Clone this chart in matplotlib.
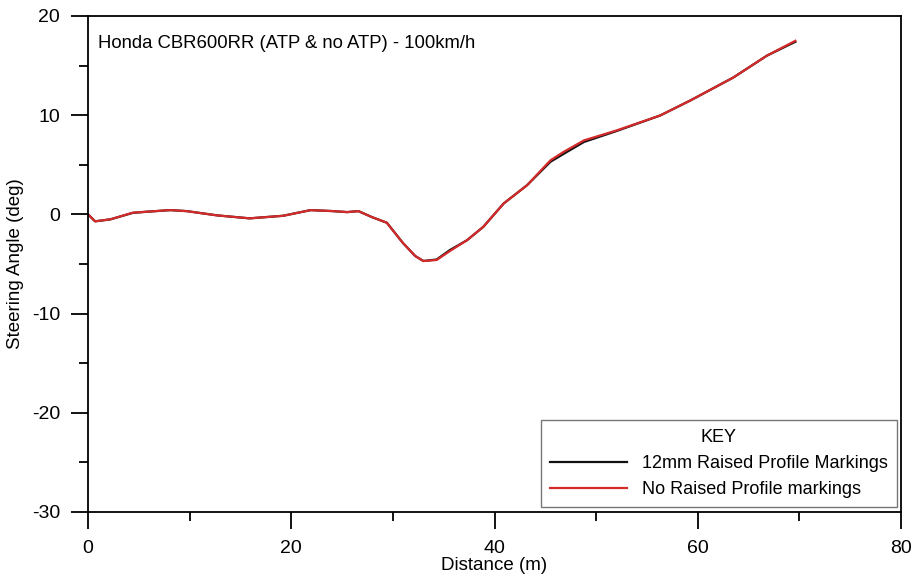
import matplotlib
matplotlib.use("Agg")
import matplotlib.pyplot as plt
from matplotlib.ticker import MultipleLocator

plt.rcParams['font.family'] = ['Liberation Sans', 'DejaVu Sans']
plt.rcParams['font.size'] = 14
plt.rcParams['axes.unicode_minus'] = False

# distance (m) and steering angle (deg)
dist_atp = [0, 0.7, 2.2, 4.4, 5.8, 8.1, 9.7, 12.7, 15.9, 19.2, 21.9, 24.1, 25.5, 26.6,
            28.0, 29.4, 31.0, 32.2, 33.0, 34.3, 35.6, 37.3, 38.9, 40.9, 43.2, 45.5, 46.8,
            48.8, 52.0, 56.3, 59.3, 63.5, 66.8, 69.6]
angle_atp = [0, -0.7, -0.5, 0.15, 0.27, 0.43, 0.33, -0.1, -0.4, -0.14, 0.43, 0.33, 0.23, 0.33,
             -0.3, -0.84, -2.9, -4.2, -4.7, -4.55, -3.6, -2.6, -1.25, 1.1, 2.94, 5.3, 6.1,
             7.3, 8.4, 9.97, 11.5, 13.8, 16.0, 17.4]

dist_no_atp = [0, 0.7, 2.2, 4.4, 5.8, 8.1, 9.7, 12.7, 15.9, 19.2, 21.9, 24.1, 25.5, 26.6,
               28.0, 29.4, 31.0, 32.2, 33.0, 34.3, 35.6, 37.3, 38.9, 40.9, 43.2, 45.5, 46.8,
               48.8, 52.0, 56.3, 59.3, 63.5, 66.8, 69.6]
angle_no_atp = [0, -0.7, -0.5, 0.17, 0.27, 0.43, 0.33, -0.1, -0.4, -0.14, 0.43, 0.33, 0.23, 0.33,
                -0.3, -0.84, -2.9, -4.2, -4.7, -4.6, -3.7, -2.6, -1.25, 1.1, 2.94, 5.45, 6.3,
                7.46, 8.46, 9.97, 11.5, 13.8, 16.0, 17.5]

fig = plt.figure(figsize=(9.13, 5.88), dpi=100)
ax = fig.add_axes([0.0964, 0.1293, 0.8905, 0.8435])

ax.plot(dist_atp, angle_atp, color='#111111', lw=1.6, label='12mm Raised Profile Markings')
ax.plot(dist_no_atp, angle_no_atp, color='#d42a2a', lw=1.6, label='No Raised Profile markings')

ax.set_xlim(0, 80)
ax.set_ylim(-30, 20)
ax.xaxis.set_major_locator(MultipleLocator(20))
ax.xaxis.set_minor_locator(MultipleLocator(10))
ax.yaxis.set_major_locator(MultipleLocator(10))
ax.yaxis.set_minor_locator(MultipleLocator(5))
ax.tick_params(which='major', direction='out', length=12, width=1.3, labelsize=14, pad=8)
ax.tick_params(which='minor', direction='out', length=6.5, width=1.3)
for s in ax.spines.values():
    s.set_linewidth(1.3)

ax.set_xlabel('Distance (m)', fontsize=13.5, labelpad=0)
ax.set_ylabel('Steering Angle (deg)', fontsize=13.5, labelpad=6)

ax.text(0.012, 0.945, 'Honda CBR600RR (ATP & no ATP) - 100km/h', transform=ax.transAxes,
        fontsize=13.3, va='center', ha='left')

leg = ax.legend(loc='lower right', title='KEY', fontsize=13, title_fontsize=13,
                fancybox=False, framealpha=1, edgecolor='#777777',
                handlelength=4.3, borderaxespad=0.25, labelspacing=0.5, borderpad=0.5)
leg.get_frame().set_linewidth(1.0)

fig.savefig('out.png', dpi=100)
